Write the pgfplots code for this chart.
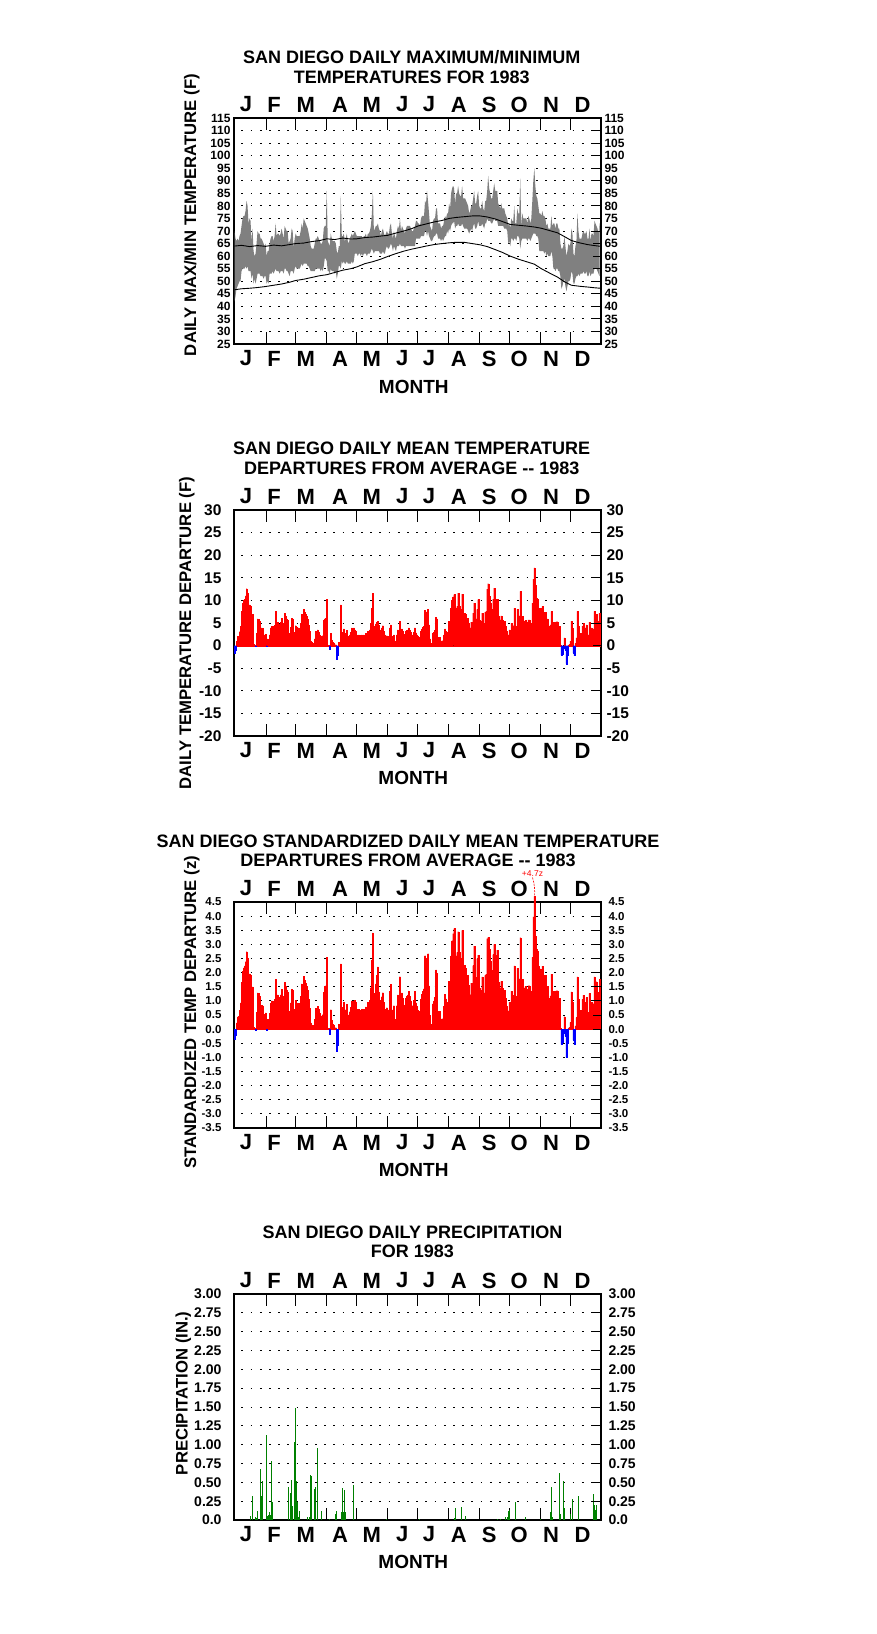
\documentclass[border=0pt]{standalone}
\usepackage{fontspec}
\setmainfont{Liberation Sans}
\usepackage{pgfplots}
\usepackage{pgfplotstable}
\pgfplotsset{compat=1.18}
\usepgfplotslibrary{fillbetween}
\newcommand\fsz[1]{\fontsize{#1}{#1}\selectfont\bfseries}

\pgfplotstableread{
d tmax tmin dep z
1 70 42 -1.6 -0.35
2 67 44 -1.0 -0.22
3 66 47 1.0 0.22
4 67 48 2.0 0.43
5 66 49 2.1 0.46
6 68 50 3.1 0.67
7 69 50 4.3 0.93
8 72 54 7.6 1.65
9 75 55 9.4 2.04
10 76 55 10.0 2.17
11 76 55 10.3 2.24
12 78 56 11.0 2.39
13 82 55 12.6 2.74
14 80 56 11.6 2.52
15 73 54 8.0 1.74
16 75 54 9.0 1.96
17 74 54 8.8 1.91
18 66 51 3.0 0.65
19 71 53 6.9 1.50
20 62 49 0.3 0.07
21 60 51 0.2 0.04
22 61 49 -0.2 -0.04
23 65 51 2.7 0.59
24 70 53 5.9 1.28
25 69 53 5.8 1.26
26 69 53 5.4 1.17
27 67 52 3.9 0.85
28 67 52 3.9 0.85
29 66 52 3.8 0.83
30 65 51 2.4 0.52
31 64 52 2.4 0.52
32 65 52 2.5 0.58
33 60 49 -0.2 -0.05
34 62 50 1.5 0.35
35 62 49 1.0 0.23
36 65 53 2.4 0.56
37 67 53 3.9 0.91
38 68 53 4.3 1.00
39 68 54 4.3 1.00
40 66 53 3.0 0.70
41 68 54 4.5 1.05
42 73 55 7.6 1.77
43 68 54 4.3 1.00
44 69 54 5.2 1.21
45 69 54 4.8 1.12
46 68 53 4.3 1.00
47 69 54 5.2 1.21
48 71 54 6.1 1.42
49 69 54 5.0 1.16
50 67 53 3.9 0.91
51 72 55 7.1 1.65
52 71 55 6.5 1.51
53 70 54 5.9 1.37
54 70 54 5.6 1.30
55 65 53 2.7 0.63
56 66 52 2.7 0.63
57 67 54 4.0 0.93
58 71 54 6.1 1.42
59 70 54 5.9 1.37
60 63 53 0.1 0.02
61 67 55 3.0 0.70
62 69 56 4.4 1.02
63 68 55 4.0 0.93
64 68 55 3.9 0.91
65 68 55 3.9 0.91
66 68 55 3.5 0.81
67 70 56 5.0 1.16
68 73 57 6.9 1.60
69 71 56 5.9 1.37
70 75 57 8.1 1.88
71 74 57 7.4 1.72
72 73 57 7.0 1.63
73 72 57 6.5 1.51
74 71 56 5.9 1.37
75 69 56 4.5 1.05
76 67 55 3.2 0.74
77 64 54 1.0 0.23
78 63 54 0.7 0.16
79 63 54 0.6 0.14
80 63 54 0.5 0.12
81 65 54 1.5 0.35
82 67 55 3.2 0.74
83 67 55 3.2 0.74
84 68 55 3.5 0.81
85 67 55 3.0 0.70
86 66 55 2.4 0.56
87 65 54 1.9 0.44
88 65 55 2.0 0.47
89 66 54 2.2 0.51
90 71 56 5.6 1.30
91 72 59 5.9 1.51
92 72 59 6.0 1.54
93 86 58 10.2 2.55
94 66 54 0.1 0.03
95 65 54 0.1 0.03
96 64 53 -0.7 -0.18
97 69 55 2.7 0.69
98 67 54 1.2 0.31
99 66 54 0.7 0.18
100 66 54 0.6 0.15
101 66 53 0.2 0.05
102 65 54 0.2 0.05
103 62 51 -3.0 -0.77
104 61 53 -2.2 -0.56
105 64 56 0.7 0.18
106 64 56 0.5 0.13
107 84 55 9.0 2.31
108 68 58 3.0 0.77
109 68 57 3.0 0.77
110 69 58 3.7 0.95
111 66 57 1.5 0.38
112 67 57 2.7 0.69
113 69 58 3.4 0.87
114 66 57 2.0 0.51
115 65 57 1.2 0.31
116 67 57 2.4 0.62
117 68 57 3.0 0.77
118 69 58 3.9 1.00
119 68 57 3.0 0.77
120 69 58 3.9 1.00
121 70 61 3.5 1.03
122 69 61 3.2 0.94
123 68 61 2.4 0.71
124 68 60 2.2 0.65
125 68 61 2.4 0.71
126 68 61 2.3 0.68
127 68 60 2.2 0.65
128 68 61 2.4 0.71
129 67 60 1.5 0.44
130 68 61 2.4 0.71
131 68 61 2.3 0.68
132 69 61 2.7 0.79
133 67 60 1.7 0.50
134 69 61 3.2 0.94
135 69 61 3.2 0.94
136 70 61 3.5 1.03
137 72 62 5.0 1.47
138 77 63 8.3 2.44
139 86 62 11.6 3.41
140 70 61 3.9 1.15
141 71 62 4.3 1.26
142 72 62 4.8 1.60
143 72 62 5.2 1.90
144 73 62 5.4 2.20
145 71 62 4.5 1.32
146 70 61 3.5 1.03
147 68 61 2.4 0.71
148 70 61 3.9 1.15
149 71 62 4.4 1.29
150 69 61 3.2 0.94
151 68 61 2.4 0.71
152 69 63 1.9 0.66
153 70 64 2.2 0.76
154 69 63 2.0 0.69
155 69 63 1.9 0.66
156 72 64 3.9 1.34
157 73 65 4.6 1.59
158 69 64 2.0 0.69
159 67 62 0.1 0.03
160 70 64 2.4 0.83
161 68 63 1.0 0.34
162 67 62 0.1 0.03
163 70 64 2.4 0.83
164 72 64 3.5 1.21
165 71 64 3.0 1.03
166 75 65 5.4 1.86
167 70 64 2.2 0.76
168 72 64 3.7 1.28
169 71 64 3.2 1.10
170 70 64 2.5 0.86
171 69 63 1.9 0.66
172 71 64 3.2 1.10
173 72 64 3.4 1.17
174 72 64 3.5 1.21
175 72 64 3.9 1.34
176 72 64 3.4 1.17
177 71 64 2.9 1.00
178 70 64 2.4 0.83
179 70 64 2.4 0.83
180 71 64 3.0 1.03
181 72 64 3.9 1.34
182 74 67 2.8 0.93
183 74 67 2.4 0.80
184 73 67 2.0 0.67
185 73 67 1.9 0.63
186 72 67 1.3 0.43
187 75 68 3.2 1.07
188 76 68 3.7 1.23
189 76 68 4.0 1.33
190 76 68 4.3 1.43
191 82 70 7.8 2.60
192 81 70 7.1 2.37
193 86 68 7.5 2.50
194 82 70 8.0 2.67
195 77 68 4.6 1.53
196 72 67 1.5 0.50
197 71 66 0.5 0.17
198 70 66 0.2 0.07
199 74 67 2.7 0.90
200 75 68 3.0 1.00
201 75 68 3.4 1.13
202 79 69 6.3 2.10
203 79 69 5.9 1.97
204 73 67 1.9 0.63
205 73 67 1.9 0.63
206 73 67 1.9 0.63
207 71 66 0.6 0.20
208 72 67 1.1 0.37
209 72 66 1.1 0.37
210 74 67 2.4 0.80
211 76 68 3.7 1.23
212 75 68 3.2 1.07
213 77 70 3.0 0.94
214 77 69 2.7 0.84
215 81 71 5.4 1.69
216 79 70 4.6 1.44
217 85 72 8.3 2.59
218 87 73 10.0 3.13
219 88 73 10.8 3.38
220 87 74 11.3 3.56
221 81 71 5.6 1.75
222 85 72 8.3 2.59
223 85 72 8.7 2.72
224 88 73 11.6 3.45
225 85 72 8.7 2.72
226 84 72 8.0 2.50
227 84 72 8.0 2.50
228 88 73 11.4 3.50
229 83 72 7.2 2.25
230 83 71 7.2 2.25
231 83 71 6.9 2.16
232 82 71 6.1 1.91
233 81 71 6.1 1.91
234 80 70 5.0 1.56
235 77 69 2.9 0.91
236 78 70 3.9 1.22
237 80 71 5.2 1.63
238 80 70 5.2 1.63
239 83 72 7.2 2.25
240 86 73 9.4 2.94
241 81 71 5.9 1.84
242 81 71 5.9 1.84
243 84 72 8.0 2.50
244 86 74 10.2 2.62
245 80 72 5.7 1.46
246 79 72 5.4 1.38
247 79 72 5.4 1.38
248 82 73 7.2 1.85
249 79 72 5.0 1.28
250 78 71 5.0 1.28
251 82 73 7.4 1.90
252 82 73 7.6 1.95
253 86 75 12.5 3.20
254 92 74 13.7 3.25
255 87 74 11.0 2.82
256 85 74 9.4 2.41
257 83 73 8.1 2.08
258 83 73 8.1 2.08
259 86 74 10.3 2.64
260 89 75 12.7 3.00
261 86 74 10.2 2.62
262 86 74 10.2 2.62
263 86 74 10.3 2.80
264 81 72 6.5 1.67
265 80 72 5.7 1.46
266 79 72 5.7 1.46
267 81 72 6.6 1.69
268 79 72 5.6 1.44
269 79 72 5.4 1.38
270 79 71 5.4 1.38
271 77 71 4.3 1.10
272 76 71 3.2 0.82
273 75 70 2.4 0.62
274 72 65 2.4 0.65
275 73 66 3.5 0.95
276 71 64 1.9 0.51
277 75 67 5.0 1.35
278 74 67 4.4 1.19
279 74 66 4.4 1.19
280 80 67 8.3 2.24
281 73 67 4.3 1.16
282 73 66 4.3 1.16
283 79 68 8.0 2.16
284 77 68 6.6 1.78
285 77 67 6.6 1.78
286 91 63 12.0 3.24
287 72 66 3.2 0.86
288 77 67 6.5 1.76
289 75 67 5.4 1.46
290 75 67 5.4 1.46
291 75 67 5.6 1.51
292 75 67 5.2 1.41
293 73 66 3.9 1.05
294 76 67 5.7 1.54
295 75 67 5.7 1.54
296 73 66 3.9 1.05
297 75 67 5.0 1.35
298 82 68 9.4 2.54
299 90 69 14.7 3.97
300 95 69 17.2 4.70
301 88 69 13.3 3.30
302 84 68 10.5 2.84
303 83 68 10.2 2.76
304 80 67 8.3 2.24
305 77 62 8.3 2.13
306 77 62 8.3 2.13
307 76 62 7.4 1.90
308 78 62 8.7 2.23
309 76 62 7.4 1.90
310 76 61 7.4 1.90
311 75 62 7.4 1.90
312 72 60 4.9 1.26
313 73 61 5.9 1.51
314 71 60 4.3 1.10
315 71 60 4.3 1.10
316 71 60 4.6 1.18
317 76 62 7.6 1.95
318 72 60 4.9 1.26
319 73 55 5.2 1.33
320 73 55 5.2 1.33
321 71 54 4.1 1.05
322 73 55 5.3 1.36
323 73 55 5.3 1.36
324 71 54 4.3 1.10
325 71 54 4.3 1.10
326 65 52 0.2 0.05
327 63 47 -2.1 -0.54
328 63 48 -1.8 -0.46
329 64 50 -0.5 -0.13
330 68 51 1.7 0.44
331 64 48 -1.0 -0.26
332 60 46 -4.0 -1.00
333 62 48 -2.0 -0.51
334 65 50 0.1 0.03
335 64 50 0.3 0.07
336 65 51 1.0 0.24
337 71 54 5.4 1.32
338 69 53 3.9 0.95
339 61 49 -1.6 -0.39
340 60 49 -2.2 -0.54
341 64 51 0.5 0.12
342 66 52 1.7 0.41
343 77 52 7.6 1.85
344 70 53 4.4 1.07
345 67 52 2.4 0.59
346 67 53 2.7 0.66
347 67 53 2.7 0.66
348 69 53 4.3 1.05
349 70 54 4.9 1.20
350 69 53 3.9 0.95
351 69 53 3.9 0.95
352 70 54 4.6 1.12
353 67 52 2.4 0.59
354 67 52 2.4 0.59
355 71 54 5.2 1.27
356 66 52 2.1 0.51
357 69 53 3.9 0.95
358 69 53 3.7 0.90
359 68 53 3.7 0.90
360 74 55 7.6 1.85
361 73 55 6.9 1.68
362 72 55 6.9 1.68
363 71 54 5.4 1.32
364 69 53 3.9 0.95
365 73 52 7.2 1.76
}\daily

\pgfplotstableread{
d nmax nmin
1 64.0 46.6
8 64.3 47.0
16 63.8 47.2
24 64.2 47.5
32 63.9 47.9
40 64.4 48.4
48 64.1 48.9
56 64.6 49.6
62 65.0 50.3
70 65.2 50.8
78 65.8 51.5
86 66.2 52.2
93 66.9 52.6
101 66.6 53.5
109 67.2 54.4
117 66.8 55.0
123 66.9 55.7
131 67.4 57.0
139 67.6 57.8
147 68.0 58.8
154 68.3 59.9
162 69.2 61.0
170 70.0 62.0
178 71.0 62.8
184 72.0 63.3
192 72.8 64.0
200 73.6 64.6
208 74.2 65.0
215 75.0 65.3
222 75.4 65.5
230 75.7 65.5
238 76.0 65.0
246 76.0 64.5
253 75.6 63.8
261 74.8 62.6
268 73.8 61.5
276 72.6 60.0
284 72.3 58.8
292 72.0 57.8
300 71.6 56.8
307 71.1 55.0
315 70.2 53.3
323 69.3 51.7
330 67.8 49.8
337 66.2 48.4
345 65.3 48.0
353 64.6 47.7
360 64.2 47.4
366 63.9 47.2
}\normals

\pgfplotstableread{
d p
17 0.06
19 0.32
22 0.04
23 0.03
24 0.12
27 0.68
28 0.32
29 0.52
33 1.13
34 0.05
35 0.07
36 0.11
37 0.07
38 0.78
39 0.24
55 0.44
57 0.36
58 0.53
59 0.18
61 1.04
62 1.49
63 0.52
64 0.24
65 0.04
66 0.12
74 0.04
76 0.04
77 0.60
78 0.58
81 0.41
82 0.44
84 0.96
88 0.12
96 0.01
102 0.08
103 0.12
108 0.11
109 0.42
110 0.11
111 0.40
112 0.11
120 0.46
152 0.01
185 0.01
220 0.03
221 0.16
227 0.17
231 0.05
263 0.01
266 0.01
271 0.04
273 0.04
274 0.12
275 0.13
281 0.24
291 0.04
306 0.01
316 0.11
317 0.44
318 0.04
325 0.62
326 0.08
329 0.52
330 0.16
336 0.08
338 0.28
344 0.32
359 0.35
360 0.20
361 0.13
362 0.20
}\precip

\pgfplotsset{
  common/.style={anchor=south west, scale only axis, width=367pt, height=226pt,
    xmin=0.5, xmax=366.5, clip=false, tick align=inside},
  mainax/.style={common, axis line style={line width=1.5pt},
    xtick={33.1,62,92.9,122.8,153.7,183.7,214.6,245.5,275.5,306.4,335.9},
    xticklabels={}, major tick length=12pt,
    xtick style={line width=1pt, black}, ytick style={draw=none},
    ymajorgrids, grid style={black, line width=1pt, dash pattern=on 1.8pt off 7.4pt, dash phase=1.8pt},
    yticklabel pos=left},
  topax/.style={common, axis line style={draw=none},
    xtick={12.5,40.4,72,106.2,137.8,168.3,194.9,224.6,255.1,285,316.6,348.2},
    xticklabels={J,F,M,A,M,J,J,A,S,O,N,D}, xticklabel pos=right,
    xtick style={draw=none},
    xticklabel style={font=\fsz{22}, anchor=center, yshift=13.5pt},
    ytick pos=right, yticklabel pos=right, major tick length=8pt,
    ytick style={line width=1pt, black}},
  botax/.style={common, axis line style={draw=none},
    xtick={12.5,40.4,72,106.2,137.8,168.3,194.9,224.6,255.1,285,316.6,348.2},
    xticklabels={J,F,M,A,M,J,J,A,S,O,N,D},
    xtick style={draw=none},
    xticklabel style={font=\fsz{22}, anchor=center, yshift=-14.5pt},
    ytick=\empty, yticklabels={}},
  p1y/.style={ymin=25, ymax=115,
    ytick={25,30,35,40,45,50,55,60,65,70,75,80,85,90,95,100,105,110,115},
    yticklabels={25,30,35,40,45,50,55,60,65,70,75,80,85,90,95,100,105,110,115},
    yticklabel style={font=\fsz{12}}},
  p2y/.style={ymin=-20, ymax=30,
    ytick={-20,-15,-10,-5,0,5,10,15,20,25,30},
    yticklabels={-20,-15,-10,-5,0,5,10,15,20,25,30},
    yticklabel style={font=\fsz{15.5}}},
  p3y/.style={ymin=-3.5, ymax=4.5,
    ytick={-3.5,-3,-2.5,-2,-1.5,-1,-0.5,0,0.5,1,1.5,2,2.5,3,3.5,4,4.5},
    yticklabels={-3.5,-3.0,-2.5,-2.0,-1.5,-1.0,-0.5,0.0,0.5,1.0,1.5,2.0,2.5,3.0,3.5,4.0,4.5},
    yticklabel style={font=\fsz{11.5}}},
  p4y/.style={ymin=0, ymax=3,
    ytick={0,0.25,0.5,0.75,1,1.25,1.5,1.75,2,2.25,2.5,2.75,3},
    yticklabels={0.0,0.25,0.50,0.75,1.00,1.25,1.50,1.75,2.00,2.25,2.50,2.75,3.00},
    yticklabel style={font=\fsz{14}}},
}

\begin{document}
\begin{tikzpicture}
\path (0pt,0pt) rectangle (876pt,-1634pt);

% ---------------- Panel 1
\begin{axis}[mainax, p1y, at={(234pt,-344pt)}]
\addplot[name path=tmax, draw=none, forget plot] table[x=d, y=tmax]{\daily};
\addplot[name path=tmin, draw=none, forget plot] table[x=d, y=tmin]{\daily};
\addplot[black!50, draw=none] fill between[of=tmax and tmin];
\addplot[black, line width=0.9pt] table[x=d, y=nmax]{\normals};
\addplot[black, line width=0.9pt] table[x=d, y=nmin]{\normals};
\end{axis}
\begin{axis}[topax, p1y, at={(234pt,-344pt)}]
\addplot[draw=none, forget plot] table[x=d, y=tmax]{\daily};
\end{axis}
\begin{axis}[p1y, botax, at={(234pt,-344pt)}]
\addplot[draw=none, forget plot] table[x=d, y=tmax]{\daily};
\end{axis}
\node[align=center, font=\fontsize{18}{19.4}\selectfont\bfseries] at (411.7pt,-67pt) {SAN DIEGO DAILY MAXIMUM/MINIMUM\\TEMPERATURES FOR 1983};
\node[rotate=90, font=\fsz{16.7}] at (191.7pt,-215pt) {DAILY MAX/MIN TEMPERATURE (F)};
\node[font=\fsz{19}] at (413.8pt,-386.7pt) {MONTH};

% ---------------- Panel 2
\begin{axis}[mainax, p2y, at={(234pt,-736pt)}, yticklabel style={xshift=-9pt}]
\addplot[ybar, bar width=1, bar shift=0pt, fill=red, draw=red, line width=0.2pt, restrict y to domain=0:50] table[x=d, y=dep]{\daily};
\addplot[ybar, bar width=1, bar shift=0pt, fill=blue, draw=blue, line width=0.2pt, restrict y to domain=-50:0] table[x=d, y=dep]{\daily};
\end{axis}
\begin{axis}[topax, p2y, at={(234pt,-736pt)}, yticklabel style={xshift=2pt}]
\addplot[draw=none, forget plot] table[x=d, y=dep]{\daily};
\end{axis}
\begin{axis}[p2y, botax, at={(234pt,-736pt)}]
\addplot[draw=none, forget plot] table[x=d, y=dep]{\daily};
\end{axis}
\node[align=center, font=\fontsize{18}{19.4}\selectfont\bfseries] at (411.7pt,-458.3pt) {SAN DIEGO DAILY MEAN TEMPERATURE\\DEPARTURES FROM AVERAGE -{}- 1983};
\node[rotate=90, font=\fsz{16.7}] at (186.7pt,-633pt) {DAILY TEMPERATURE DEPARTURE (F)};
\node[font=\fsz{19}] at (413.3pt,-778.3pt) {MONTH};

% ---------------- Panel 3
\begin{axis}[mainax, p3y, at={(234pt,-1128pt)}, yticklabel style={xshift=-9pt}]
\addplot[ybar, bar width=1, bar shift=0pt, fill=red, draw=red, line width=0.2pt, restrict y to domain=0:50] table[x=d, y=z]{\daily};
\addplot[ybar, bar width=1, bar shift=0pt, fill=blue, draw=blue, line width=0.2pt, restrict y to domain=-50:0] table[x=d, y=z]{\daily};
\end{axis}
\begin{axis}[topax, p3y, at={(234pt,-1128pt)}, yticklabel style={xshift=4pt}]
\addplot[draw=none, forget plot] table[x=d, y=z]{\daily};
\end{axis}
\begin{axis}[p3y, botax, at={(234pt,-1128pt)}]
\addplot[draw=none, forget plot] table[x=d, y=z]{\daily};
\end{axis}
\node[align=center, font=\fontsize{18}{19.4}\selectfont\bfseries] at (408pt,-850.7pt) {SAN DIEGO STANDARDIZED DAILY MEAN TEMPERATURE\\DEPARTURES FROM AVERAGE -{}- 1983};
\node[rotate=90, font=\fsz{16.7}] at (191.7pt,-1012.5pt) {STANDARDIZED TEMP DEPARTURE (z)};
\node[font=\fsz{19}] at (413.7pt,-1170pt) {MONTH};
\node[red, font=\fontsize{8.5}{8.5}\selectfont] at (532.5pt,-873.3pt) {+4.7z};
\draw[red, line width=0.6pt, dash pattern=on 2pt off 1.2pt] (532.5pt,-877.5pt) .. controls (534.5pt,-884pt) and (535pt,-890pt) .. (534.6pt,-896pt);

% ---------------- Panel 4
\begin{axis}[mainax, p4y, at={(234pt,-1520pt)}, yticklabel style={xshift=-9pt}]
\addplot[ycomb, mark=none, draw=green!50!black, line width=0.8pt] table[x=d, y=p]{\precip};
\end{axis}
\begin{axis}[topax, p4y, at={(234pt,-1520pt)}, yticklabel style={xshift=4pt}]
\addplot[draw=none, forget plot] table[x=d, y=p]{\precip};
\end{axis}
\begin{axis}[p4y, botax, at={(234pt,-1520pt)}]
\addplot[draw=none, forget plot] table[x=d, y=p]{\precip};
\end{axis}
\node[align=center, font=\fontsize{18}{19.4}\selectfont\bfseries] at (412.5pt,-1242pt) {SAN DIEGO DAILY PRECIPITATION\\FOR 1983};
\node[rotate=90, font=\fsz{16.7}] at (183.3pt,-1393.3pt) {PRECIPITATION (IN.)};
\node[font=\fsz{19}] at (413.3pt,-1561.7pt) {MONTH};
\end{tikzpicture}
\end{document}
